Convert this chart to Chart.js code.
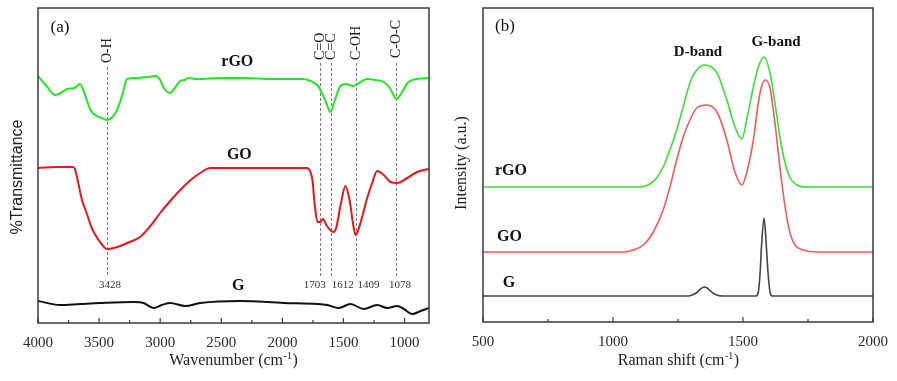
<!DOCTYPE html>
<html><head><meta charset="utf-8">
<script src="https://cdn.jsdelivr.net/npm/chart.js@4"></script>
<style>
html,body{margin:0;padding:0;background:#fff;}
#wrap{position:relative;width:897px;height:381px;overflow:hidden;}
canvas{position:absolute;top:0;}
#ca{left:0}
#cb{left:450px}
</style></head><body>
<div id="wrap"><canvas id="ca" width="450" height="381"></canvas><canvas id="cb" width="449" height="381"></canvas></div>
<script>
// ---------- Panel (a): FTIR ----------
const ftirTicks = [1000, 1500, 2000, 2500, 3000, 3500, 4000];
const rgoFtirX = [4000,3930,3860,3800,3760,3700,3656,3615,3570,3533,3480,3434,3390,3352,3310,3270,3200,3100,3040,3000,2975,2918,2880,2836,2800,2770,2700,2500,2300,2100,1900,1828,1770,1713,1680,1640,1607,1570,1525,1480,1418,1360,1303,1240,1172,1120,1066,1020,975,900,800];
const rgoFtirY = [247,237,228,231,234,235,239,228,213,208,205,203,206,213,228,244,245,246,247,243,236,230,235,242,243,245,244,245,245,244,244,244,242,238,231,220,211,223,237,239,237,241,244,243,241,235,224,231,240,244,245];
const goFtirX = [4000,3850,3713,3695,3672,3640,3602,3560,3520,3480,3434,3380,3328,3250,3164,3080,3000,2918,2836,2750,2672,2590,2400,2000,1800,1770,1754,1735,1713,1690,1667,1640,1600,1580,1560,1520,1484,1450,1420,1402,1385,1347,1306,1265,1224,1170,1115,1060,978,896,800];
const goFtirY = [155,156,156,153,141,123,110,95,86,79,74,75,77,81,86,97,110,122,133,143,150,155,155,155,155,151,143,118,101,101,104,98,92,91,95,120,137,123,98,88,91,106,125,140,152,148,141,140,145,151,154];
const gFtirX = [4000,3820,3656,3492,3219,3137,3055,2986,2918,2795,2672,2344,1989,1716,1634,1539,1443,1334,1224,1142,1060,1006,937,869,800];
const gFtirY = [22,18,19,20,21,20,15,18,20,17,20,22,20,19,18,15,19,14,18,15,17,14,9,12,15];
const peakPositions = [3428, 1703, 1612, 1409, 1078];
const peakBonds = ['O-H', 'C=O', 'C=C', 'C-OH', 'C-O-C'];
const peakNumbers = ['3428', '1703', '1612', '1409', '1078'];

// ---------- Panel (b): Raman ----------
const ramanTicks = [500, 1000, 1500, 2000];
const rgoRamanX = [500,1000,1104,1125,1142,1168,1193,1219,1245,1270,1296,1322,1354,1400,1438,1469,1496,1514,1540,1559,1581,1604,1623,1642,1662,1681,1707,1745,2000];
const rgoRamanY = [135,135,135,136,138,144,155,172,192,215,239,252,257,249,222,195,183,202,235,255,265,249,219,185,159,144,137,135,135];
const goRamanX = [500,1040,1078,1117,1155,1193,1219,1245,1270,1296,1322,1360,1400,1438,1469,1496,1514,1540,1559,1571,1585,1604,1623,1642,1662,1681,1700,1732,1783,2000];
const goRamanY = [70,70,72,77,90,112,135,162,185,202,214,217,210,182,150,137,149,182,219,235,242,234,199,155,115,89,77,72,70,70];
const gRamanX = [500,1290,1305,1320,1335,1350,1362,1375,1390,1405,1420,1550,1559,1566,1571,1581,1590,1596,1604,1612,2000];
const gRamanY = [26,26,27,29,32.5,35,34,31,28,26.5,26,26,30,50,75,104,75,50,30,26,26];

const SERIF = '"Liberation Serif","Times New Roman",serif';
const SANS = '"Liberation Sans",Arial,sans-serif';
const pts = (xs, ys) => xs.map((x, i) => ({x: x, y: ys[i]}));

function supTitle(ctx, cx, cy, pre, sup, post, size) {
  ctx.save();
  ctx.fillStyle = '#222';
  ctx.textBaseline = 'alphabetic';
  ctx.textAlign = 'left';
  const f1 = size + 'px ' + SERIF;
  const f2 = Math.round(size * 0.62) + 'px ' + SERIF;
  ctx.font = f1; const w1 = ctx.measureText(pre).width; const w3 = ctx.measureText(post).width;
  ctx.font = f2; const w2 = ctx.measureText(sup).width;
  let x = cx - (w1 + w2 + w3) / 2;
  const base = cy + size * 0.33;
  ctx.font = f1; ctx.fillText(pre, x, base); x += w1;
  ctx.font = f2; ctx.fillText(sup, x + 0.5, base - size * 0.42); x += w2 + 1;
  ctx.font = f1; ctx.fillText(post, x, base);
  ctx.restore();
}

function frameAndTicks(chart, minorStep, majorStep) {
  const ctx = chart.ctx, a = chart.chartArea, xs = chart.scales.x;
  ctx.save();
  ctx.strokeStyle = '#3a3a3a';
  ctx.lineWidth = 1.5;
  ctx.strokeRect(a.left, a.top, a.right - a.left, a.bottom - a.top);
  ctx.lineWidth = 1.2;
  const lo = Math.min(xs.min, xs.max), hi = Math.max(xs.min, xs.max);
  for (let v = Math.ceil(lo / minorStep) * minorStep; v <= hi; v += minorStep) {
    const px = xs.getPixelForValue(v);
    const len = (v % majorStep === 0) ? 5 : 3;
    ctx.beginPath();
    ctx.moveTo(px, a.bottom);
    ctx.lineTo(px, a.bottom - len);
    ctx.stroke();
  }
  ctx.restore();
}

function textAt(ctx, str, x, y, font, align) {
  ctx.save();
  ctx.font = font;
  ctx.fillStyle = '#111';
  ctx.textAlign = align || 'center';
  ctx.textBaseline = 'middle';
  ctx.fillText(str, x, y);
  ctx.restore();
}

const decorA = {
  id: 'decorA',
  beforeDatasetsDraw(chart) {
    const ctx = chart.ctx, xs = chart.scales.x;
    ctx.save();
    ctx.strokeStyle = '#7a7a7a';
    ctx.lineWidth = 1;
    ctx.setLineDash([3, 2]);
    peakPositions.forEach((p, i) => {
      const px = Math.round(xs.getPixelForValue(p)) + 0.5 + (i === 0 ? -1 : 1);
      ctx.beginPath();
      ctx.moveTo(px, i === 0 ? 67 : 63);
      ctx.lineTo(px, 277);
      ctx.stroke();
    });
    ctx.restore();
  },
  afterDraw(chart) {
    const ctx = chart.ctx, xs = chart.scales.x, ys = chart.scales.y;
    frameAndTicks(chart, 250, 500);
    const bottoms = [63, 60, 60, 60, 58];
    peakPositions.forEach((p, i) => {
      const px = Math.round(xs.getPixelForValue(p)) + 0.5 + (i === 0 ? -1 : 1);
      ctx.save();
      ctx.translate(px, bottoms[i]);
      ctx.rotate(-Math.PI / 2);
      ctx.font = '14px ' + SERIF;
      ctx.fillStyle = '#222';
      ctx.textAlign = 'left';
      ctx.textBaseline = 'middle';
      ctx.fillText(peakBonds[i], 0, 0);
      ctx.restore();
    });
    const dx = [2, -4, 13, 14, 5];
    peakPositions.forEach((p, i) => {
      const px = xs.getPixelForValue(p) + dx[i];
      ctx.save();
      ctx.font = '11px ' + SERIF;
      ctx.fillStyle = '#333';
      ctx.textAlign = 'center';
      ctx.textBaseline = 'middle';
      ctx.fillText(peakNumbers[i], px, 285);
      ctx.restore();
    });
    const bf = 'bold 16px ' + SERIF;
    textAt(ctx, 'rGO', xs.getPixelForValue(2369), ys.getPixelForValue(261), bf);
    textAt(ctx, 'GO', xs.getPixelForValue(2352), ys.getPixelForValue(168), bf);
    textAt(ctx, 'G', xs.getPixelForValue(2361), ys.getPixelForValue(37), bf);
    textAt(ctx, '(a)', 60, 28, '17px ' + SERIF);
    supTitle(ctx, 233, 360, 'Wavenumber (cm', '-1', ')', 16);
    ctx.save();
    ctx.translate(18, 177);
    ctx.rotate(-Math.PI / 2);
    ctx.font = '16px ' + SANS;
    ctx.fillStyle = '#222';
    ctx.textAlign = 'center';
    ctx.textBaseline = 'middle';
    ctx.fillText('%Transmittance', 0, 0);
    ctx.restore();
  }
};

const decorB = {
  id: 'decorB',
  afterDraw(chart) {
    const ctx = chart.ctx, xs = chart.scales.x, ys = chart.scales.y;
    frameAndTicks(chart, 250, 500);
    const bf = 'bold 15px ' + SERIF;
    textAt(ctx, 'D-band', xs.getPixelForValue(1327), ys.getPixelForValue(270), bf);
    textAt(ctx, 'G-band', xs.getPixelForValue(1627), ys.getPixelForValue(280), bf);
    const lf = 'bold 16px ' + SERIF;
    textAt(ctx, 'rGO', xs.getPixelForValue(546), ys.getPixelForValue(151), lf, 'left');
    textAt(ctx, 'GO', xs.getPixelForValue(554), ys.getPixelForValue(85), lf, 'left');
    textAt(ctx, 'G', xs.getPixelForValue(600), ys.getPixelForValue(39), lf);
    textAt(ctx, '(b)', 55, 27, '17px ' + SERIF);
    supTitle(ctx, 228, 360, 'Raman shift (cm', '-1', ')', 16);
    ctx.save();
    ctx.translate(12, 163);
    ctx.rotate(-Math.PI / 2);
    ctx.font = '16px ' + SERIF;
    ctx.fillStyle = '#222';
    ctx.textAlign = 'center';
    ctx.textBaseline = 'middle';
    ctx.fillText('Intensity (a.u.)', 0, 0);
    ctx.restore();
  }
};

function lineDs(label, data, color, width) {
  return {
    label: label, data: data, borderColor: color, borderWidth: width,
    pointRadius: 0, fill: false, cubicInterpolationMode: 'monotone'
  };
}

function xScale(min, max, reverse, ticks) {
  return {
    type: 'linear', min: min, max: max, reverse: reverse,
    grid: {display: false, drawTicks: false},
    border: {display: false},
    afterBuildTicks: (s) => { s.ticks = ticks.map(v => ({value: v})); },
    ticks: {
      padding: 11, autoSkip: false, maxRotation: 0,
      color: '#2a2a2a', font: {family: SERIF, size: 15},
      callback: (v) => String(v)
    }
  };
}

function baseOptions(xsc, pad) {
  return {
    responsive: false, animation: false, devicePixelRatio: 1,
    layout: {padding: pad},
    plugins: {legend: {display: false}, tooltip: {enabled: false}},
    scales: {
      x: xsc,
      y: {type: 'linear', min: 0, max: 315, display: false}
    }
  };
}

new Chart(document.getElementById('ca'), {
  type: 'line',
  data: {datasets: [
    lineDs('rGO', pts(rgoFtirX, rgoFtirY), '#22e622', 2),
    lineDs('GO', pts(goFtirX, goFtirY), '#e8161b', 2),
    lineDs('G', pts(gFtirX, gFtirY), '#111111', 2)
  ]},
  options: baseOptions(xScale(800, 4000, true, ftirTicks), {left: 38, right: 21, top: 8, bottom: 18}),
  plugins: [decorA]
});

const optB = baseOptions(xScale(500, 2000, false, ramanTicks), {left: 33, right: 26, top: 8, bottom: 19});
optB.scales.y.max = 314;
new Chart(document.getElementById('cb'), {
  type: 'line',
  data: {datasets: [
    lineDs('rGO', pts(rgoRamanX, rgoRamanY), '#38e038', 1.6),
    lineDs('GO', pts(goRamanX, goRamanY), '#f25a5a', 1.6),
    lineDs('G', pts(gRamanX, gRamanY), '#444444', 1.6)
  ]},
  options: optB,
  plugins: [decorB]
});
</script>
</body></html>
